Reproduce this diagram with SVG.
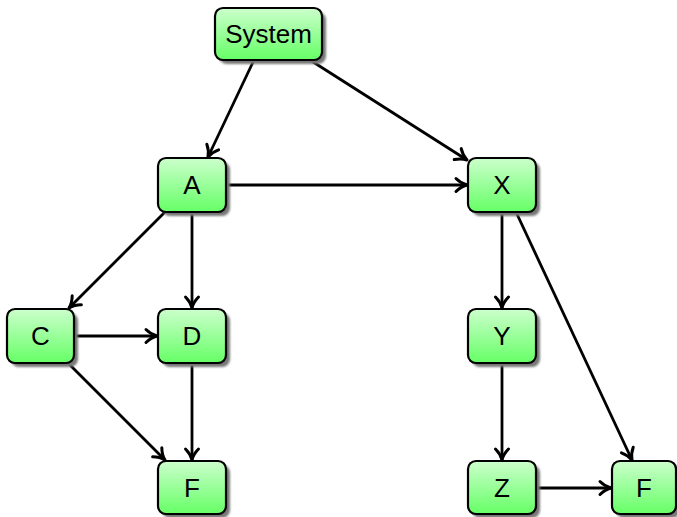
<svg xmlns="http://www.w3.org/2000/svg" width="677" height="517" viewBox="0 0 677 517">
<defs>
<linearGradient id="g" x1="0" y1="0" x2="0" y2="1">
<stop offset="0" stop-color="#ccffcc"/>
<stop offset="1" stop-color="#66ff66"/>
</linearGradient>
<filter id="sh" x="-20%" y="-20%" width="140%" height="140%">
<feGaussianBlur stdDeviation="1.2"/>
</filter>
<marker id="ar" markerWidth="18" markerHeight="18" refX="14" refY="9" orient="auto" markerUnits="userSpaceOnUse">
<path d="M3,2.5 Q8,7.5 14,9 Q8,10.5 3,15.5" fill="none" stroke="#000" stroke-width="3" stroke-linejoin="round" stroke-linecap="round"/>
</marker>
</defs>
<style>
.sh{fill:#777;filter:url(#sh)}
.bx{fill:url(#g);stroke:#000;stroke-width:2.2}
.t{font-family:"Liberation Sans",Arial,sans-serif;font-size:26px;text-anchor:middle;dominant-baseline:central;fill:#000}
.e{stroke:#000;stroke-width:2.8;fill:none;marker-end:url(#ar)}
</style>
<g id="connectors">
<line class="e" x1="254" y1="60" x2="208" y2="157"/>
<line class="e" x1="310" y1="60" x2="467" y2="160"/>
<line class="e" x1="226" y1="185" x2="467" y2="185"/>
<line class="e" x1="165" y1="212" x2="69" y2="308"/>
<line class="e" x1="192" y1="212" x2="192" y2="308"/>
<line class="e" x1="74" y1="336" x2="157" y2="336"/>
<line class="e" x1="68" y1="363" x2="165" y2="460"/>
<line class="e" x1="192" y1="363" x2="192" y2="460"/>
<line class="e" x1="502" y1="212" x2="502" y2="308"/>
<line class="e" x1="516" y1="212" x2="632" y2="460"/>
<line class="e" x1="502" y1="363" x2="502" y2="460"/>
<line class="e" x1="536" y1="488" x2="611" y2="488"/>
</g>
<g id="System"><rect class="sh" x="219" y="12" width="107" height="52" rx="8"/><rect class="bx" x="215" y="8" width="107" height="52" rx="8"/><text class="t" x="268.5" y="34">System</text></g>
<g id="A"><rect class="sh" x="162" y="162" width="68" height="54" rx="8"/><rect class="bx" x="158" y="158" width="68" height="54" rx="8"/><text class="t" x="192" y="185">A</text></g>
<g id="X"><rect class="sh" x="472" y="162" width="68" height="54" rx="8"/><rect class="bx" x="468" y="158" width="68" height="54" rx="8"/><text class="t" x="502" y="185">X</text></g>
<g id="C"><rect class="sh" x="11" y="313" width="67" height="54" rx="8"/><rect class="bx" x="7" y="309" width="67" height="54" rx="8"/><text class="t" x="40.5" y="336">C</text></g>
<g id="D"><rect class="sh" x="162" y="313" width="68" height="54" rx="8"/><rect class="bx" x="158" y="309" width="68" height="54" rx="8"/><text class="t" x="192" y="336">D</text></g>
<g id="Y"><rect class="sh" x="472" y="313" width="68" height="54" rx="8"/><rect class="bx" x="468" y="309" width="68" height="54" rx="8"/><text class="t" x="502" y="336">Y</text></g>
<g id="F1"><rect class="sh" x="162" y="465" width="68" height="53" rx="8"/><rect class="bx" x="158" y="461" width="68" height="53" rx="8"/><text class="t" x="192" y="488">F</text></g>
<g id="Z"><rect class="sh" x="472" y="465" width="68" height="53" rx="8"/><rect class="bx" x="468" y="461" width="68" height="53" rx="8"/><text class="t" x="502" y="488">Z</text></g>
<g id="F2"><rect class="sh" x="616" y="465" width="64" height="53" rx="8"/><rect class="bx" x="612" y="461" width="64" height="53" rx="8"/><text class="t" x="644" y="488">F</text></g>
</svg>
